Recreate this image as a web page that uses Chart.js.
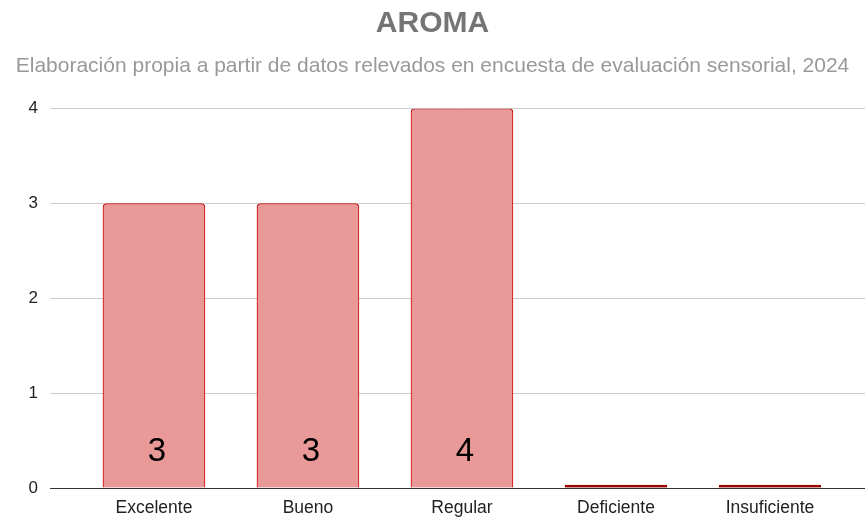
<!DOCTYPE html>
<html lang="es">
<head>
  <meta charset="UTF-8">
  <title>AROMA</title>
  <script src="https://cdn.jsdelivr.net/npm/chart.js@4/dist/chart.umd.min.js"></script>
  <style>
    html, body { margin: 0; padding: 0; background: #fff; }
    #wrap { width: 865px; height: 517px; }
  </style>
</head>
<body>
  <div id="wrap"><canvas id="chart"></canvas></div>
  <script>
    // data
    const categories = ["Excelente", "Bueno", "Regular", "Deficiente", "Insuficiente"];
    const counts = [3, 3, 4, 0, 0];
    const yTicks = [0, 1, 2, 3, 4];

    const titleText = "AROMA";
    const subtitleText = "Elaboración propia a partir de datos relevados en encuesta de evaluación sensorial, 2024";

    const FONT = "'Liberation Sans', Arial, sans-serif";

    // draws the value near the bottom of each bar (only for non-zero bars)
    const valueLabels = {
      id: "valueLabels",
      afterDatasetsDraw(chart) {
        const ctx = chart.ctx;
        const meta = chart.getDatasetMeta(0);
        ctx.save();
        ctx.font = "33px " + FONT;
        ctx.fillStyle = "#000";
        ctx.textAlign = "center";
        ctx.textBaseline = "middle";
        meta.data.forEach((bar, i) => {
          if (!counts[i]) return;
          ctx.fillText(String(counts[i]), bar.x + 3, bar.base - 36);
        });
        ctx.restore();
      }
    };

    new Chart(document.getElementById("chart"), {
      type: "bar",
      data: {
        datasets: [{
          data: counts.map((v, i) => ({ x: i, y: v })),
          backgroundColor: counts.map(v => v ? "#ea9999" : "#990000"),
          borderColor: counts.map(v => v ? "#cc0000" : "#990000"),
          borderWidth: 1,
          borderRadius: { topLeft: 4, topRight: 4 },
          borderSkipped: "bottom",
          minBarLength: 3,
          barThickness: 102
        }]
      },
      options: {
        responsive: true,
        maintainAspectRatio: false,
        animation: false,
        layout: { padding: { top: 0, right: 0, left: 0, bottom: -10.5 } },
        plugins: {
          legend: { display: false },
          tooltip: { enabled: false },
          title: {
            display: true,
            text: titleText,
            color: "#757575",
            font: { family: FONT, size: 30, weight: "bold" },
            padding: { top: 6, bottom: 5 }
          },
          subtitle: {
            display: true,
            text: subtitleText,
            color: "#999999",
            font: { family: FONT, size: 21 },
            padding: { top: 7, bottom: 29.5 }
          }
        },
        scales: {
          x: {
            type: "linear",
            offset: false,
            min: -0.675,
            max: 4.617,
            afterBuildTicks: s => { s.ticks = categories.map((_, i) => ({ value: i })); },
            grid: { display: false, drawTicks: false, tickLength: 0 },
            border: { display: true, color: "#333333", width: 1 },
            ticks: {
              autoSkip: false,
              maxRotation: 0,
              padding: 11,
              color: "#222222",
              font: { family: FONT, size: 17.5, lineHeight: 1 },
              callback: v => categories[v]
            }
          },
          y: {
            min: 0,
            max: 4,
            afterBuildTicks: s => { s.ticks = yTicks.map(v => ({ value: v })); },
            afterFit: s => { s.width = 50; },
            grid: {
              drawTicks: false,
              color: ctx => ctx.tick && ctx.tick.value === 0 ? "#333333" : "#cccccc"
            },
            border: { display: false },
            ticks: {
              padding: 12,
              color: "#222222",
              font: { family: FONT, size: 17 }
            }
          }
        }
      },
      plugins: [valueLabels]
    });
  </script>
</body>
</html>
